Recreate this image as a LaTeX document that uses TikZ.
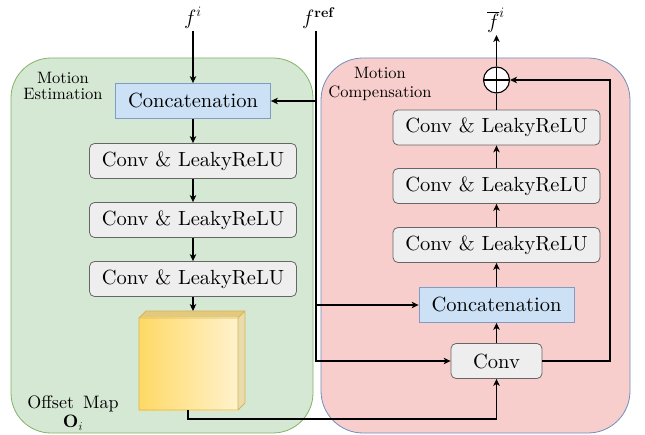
\documentclass[tikz,border=0pt]{standalone}
\usepackage{fontspec}
\setmainfont{lmroman10-regular}[Extension=.otf, BoldFont=lmroman10-bold, ItalicFont=lmroman10-italic]
\usetikzlibrary{arrows.meta,calc}
\definecolor{gfill}{HTML}{D5E8D4}
\definecolor{gdraw}{HTML}{82B366}
\definecolor{rfill}{HTML}{F8CECC}
\definecolor{rdraw}{HTML}{6C8EBF}
\definecolor{bfill}{HTML}{CCE1F5}
\definecolor{bdraw}{HTML}{7E9CC4}
\definecolor{cfill}{HTML}{EEEEEE}
\definecolor{cdraw}{HTML}{666666}
\definecolor{ydark}{HTML}{FFD966}
\definecolor{ylight}{HTML}{FFF2CC}
\definecolor{yedge}{HTML}{D6B656}
\definecolor{ytop}{HTML}{E2C97E}
\definecolor{yside}{HTML}{EADBAA}
\begin{document}
\begin{tikzpicture}[x=1pt,y=-1pt,
  convbox/.style={draw=cdraw, fill=cfill, rounded corners=5pt, line width=0.8pt,
    minimum width=207pt, minimum height=35pt, inner sep=0pt,
    font=\fontsize{20.5}{24}\selectfont},
  catbox/.style={draw=bdraw, fill=bfill, line width=0.8pt,
    minimum width=155pt, minimum height=35pt, inner sep=0pt,
    font=\fontsize{20.5}{24}\selectfont},
  smalllabel/.style={align=center, inner sep=0pt},
  mathlabel/.style={inner sep=0pt, font=\fontsize{20}{24}\selectfont},
  arr/.style={line width=1.1pt, -{Stealth[length=7pt,width=6.5pt,inset=2pt]}},
  plainline/.style={line width=1.1pt},
]
\useasboundingbox (0,0) rectangle (645,435);

% panels
\draw[draw=gdraw, fill=gfill, line width=0.8pt, rounded corners=40pt] (11,58) rectangle (313,433);
\draw[draw=rdraw, fill=rfill, line width=0.8pt, rounded corners=42pt] (321,58) rectangle (630,433);

% panel labels
\node[smalllabel, font=\fontsize{16.5}{15.5}\selectfont] (melabel) at (63,86) {Motion\\Estimation};
\node[smalllabel, font=\fontsize{16.5}{19.5}\selectfont] (mclabel) at (380,84) {Motion\\Compensation};

% inputs/outputs
\node[mathlabel] (fi) at (193,18) {$f^{i}$};
\node[mathlabel] (fref) at (318,18) {$f^{\mathbf{ref}}$};
\node[mathlabel] (fbar) at (496,20) {$\overline{f}^{i}$};

% left branch
\node[catbox] (catL) at (193,101) {Concatenation};
\node[convbox] (l1) at (193,161) {Conv \& LeakyReLU};
\node[convbox] (l2) at (193,220) {Conv \& LeakyReLU};
\node[convbox] (l3) at (193,279) {Conv \& LeakyReLU};

% cube (offset map)
\fill[ytop] (139,318) -- (146,311) -- (245,311) -- (238,318) -- cycle;
\fill[yside] (238,318) -- (245,311) -- (245,403) -- (238,410) -- cycle;
\shade[left color=ydark, right color=ylight] (139,318) rectangle (238,410);
\draw[yedge, line width=0.8pt, line join=round] (139,410) -- (139,318) -- (146,311) -- (245,311) -- (245,403) -- (238,410) -- cycle
  (139,318) -- (238,318) -- (238,410) (238,318) -- (245,311);
\coordinate (cubetop) at (193,311);
\coordinate (cubebot) at (188,410);
\node[smalllabel, font=\fontsize{18}{19}\selectfont] (offlabel) at (73,413) {Offset\hspace{9pt}Map\\$\mathbf{O}_i$};

% right branch
\node[convbox, minimum width=91pt] (conv) at (496.5,361) {Conv};
\node[catbox] (catR) at (496.5,305) {Concatenation};
\node[convbox] (r1) at (496.5,245) {Conv \& LeakyReLU};
\node[convbox] (r2) at (496.5,186) {Conv \& LeakyReLU};
\node[convbox] (r3) at (496.5,127.5) {Conv \& LeakyReLU};
\node[circle, draw, fill=white, minimum size=26pt, inner sep=0pt, line width=1.1pt,
  path picture={\draw[line width=1.1pt] (path picture bounding box.north) -- (path picture bounding box.south)
    (path picture bounding box.west) -- (path picture bounding box.east);}] (plus) at (496.5,80) {};

% connectors left
\coordinate (fitop) at (193,31);
\draw[arr] (fitop) -- (catL.north);
\draw[arr] (catL) -- (l1);
\draw[arr] (l1) -- (l2);
\draw[arr] (l2) -- (l3);
\draw[arr] (l3.south) -- (cubetop);

% f^ref line
\coordinate (reftop) at (316,31);
\draw[arr] (reftop) |- (conv.west);
\draw[arr] (reftop |- catL) -- (catL.east);
\draw[arr] (reftop |- catR) -- (catR.west);

% offset map to conv
\coordinate (turn) at (188,419);
\draw[arr] (cubebot) -- (turn) -| (conv.south);

% right connectors
\draw[arr] (conv) -- (catR);
\draw[arr] (catR) -- (r1);
\draw[arr] (r1) -- (r2);
\draw[arr] (r2) -- (r3);
\draw[plainline] (r3.north) -- (plus.south);
\coordinate (fbarbot) at (496.5,35);
\draw[arr] (plus.north) -- (fbarbot);
\coordinate (skip) at (610,80);
\draw[arr] (conv.east) -| (skip) -- (plus.east);
\end{tikzpicture}
\end{document}
